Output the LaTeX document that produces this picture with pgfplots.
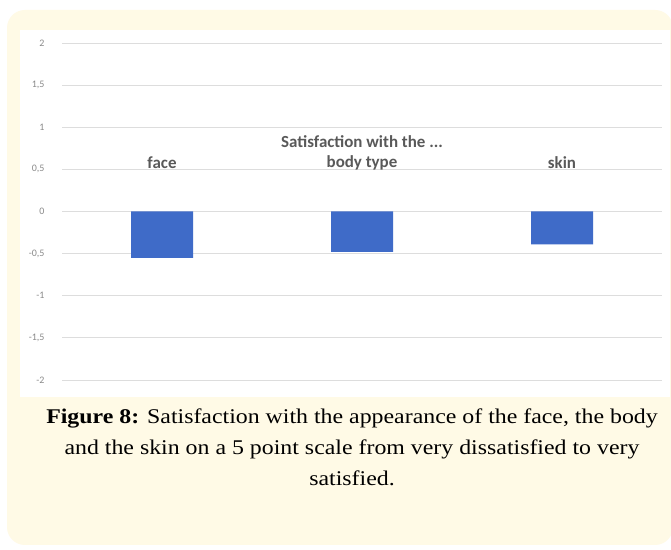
\documentclass[border=0pt]{standalone}
\usepackage{fontspec}
\setmainfont{Carlito}
\newfontfamily\capfont{Liberation Serif}
\usepackage{pgfplots}
\pgfplotsset{compat=1.18}
\definecolor{cream}{HTML}{FFFAE6}
\definecolor{barblue}{HTML}{3F6BC8}
\definecolor{gridgray}{HTML}{DDDDDD}
\definecolor{tickgray}{HTML}{8A8A8A}
\definecolor{labelgray}{HTML}{595959}
\begin{document}
\begin{tikzpicture}[x=1bp,y=1bp]
\clip (0,0) rectangle (671,550);
\fill[white] (0,0) rectangle (671,550);
\fill[cream, rounded corners=18bp] (7,5) rectangle (673,540);
\fill[white] (20,153) rectangle (670,520);
\begin{axis}[
  at={(62bp,170bp)}, anchor=south west,
  scale only axis, width=600bp, height=337bp,
  xmin=-0.5, xmax=2.5, ymin=-2, ymax=2,
  axis line style={draw=none},
  xtick=\empty,
  ytick={-2,-1.5,-1,-0.5,0,0.5,1,1.5,2},
  ymajorgrids, grid style={color=gridgray, line width=0.8bp},
  major tick length=0pt,
  /pgf/number format/use comma,
  /pgf/number format/assume math mode=true,
  yticklabel style={font=\fontsize{10}{10}\selectfont, text=tickgray, xshift=-14bp},
  ybar, bar width=62bp,
  clip=false,
]
\addplot[fill=barblue, draw=none] coordinates {(0,-0.55) (1,-0.48) (2,-0.39)};
\node[font=\bfseries\fontsize{17}{17}\selectfont, text=labelgray] at (axis cs:0,0.58) {face};
\node[font=\bfseries\fontsize{17}{17}\selectfont, text=labelgray] at (axis cs:1,0.58) {body type};
\node[font=\bfseries\fontsize{17}{17}\selectfont, text=labelgray] at (axis cs:2,0.58) {skin};
\node[font=\bfseries\fontsize{17}{17}\selectfont, text=labelgray] at (axis cs:1,0.83) {Satisfaction with the ...};
\end{axis}
\node at (352,102) {\scalebox{1.14}[1]{\capfont\fontsize{21}{31}\selectfont\begin{tabular}{@{}c@{}}\textbf{Figure 8:} Satisfaction with the appearance of the face, the body\\ and the skin on a 5 point scale from very dissatisfied to very\\ satisfied.\end{tabular}}};
\end{tikzpicture}
\end{document}
